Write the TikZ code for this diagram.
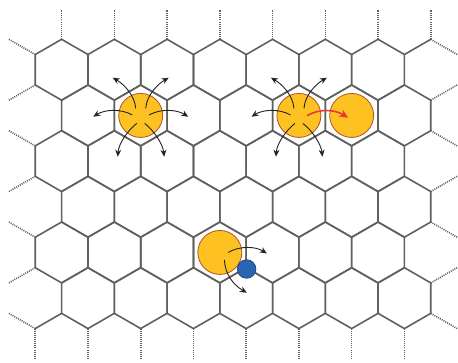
\documentclass[tikz,border=0pt]{standalone}
\usetikzlibrary{arrows.meta,calc}
\definecolor{gridgray}{HTML}{606060}
\definecolor{ballyellow}{HTML}{FDC221}
\definecolor{balledge}{HTML}{B0522A}
\definecolor{ballblue}{HTML}{2865B2}
\definecolor{blueedge}{HTML}{27457F}
\definecolor{arrowred}{HTML}{E8393F}
\definecolor{arrowblack}{HTML}{222222}
\begin{document}
\begin{tikzpicture}[x=1pt,y=-1pt,
  gridline/.style={draw=gridgray,line width=1.6pt,line join=round},
  stub/.style={draw=gridgray,line width=1.6pt,dash pattern=on 1pt off 1.1pt},
  ball/.style={circle,fill=ballyellow,draw=balledge,line width=0.8pt,minimum size=44pt,inner sep=0pt},
  smallball/.style={circle,fill=ballblue,draw=blueedge,line width=0.8pt,minimum size=18.5pt,inner sep=0pt},
  hop/.style={draw=arrowblack,line width=0.9pt,-{Stealth[length=7pt,width=6pt]}},
  swapmove/.style={draw=arrowred,line width=1.6pt,-{Stealth[length=9pt,width=8pt]}},
]
\useasboundingbox (0,0) rectangle (458,362);
\def\W{52.74}\def\H{26.37}\def\R{30.45}\def\Rh{15.225}
\def\xo{61.6}\def\yo{69.75}\def\dy{45.675}
% hexagon grid
\foreach \r in {0,...,5}{
  \foreach \k in {0,...,6}{
    \pgfmathsetmacro{\cx}{\xo+\k*\W+mod(\r,2)*\H}
    \pgfmathsetmacro{\cy}{\yo+\r*\dy}
    \draw[gridline,shift={(\cx,\cy)}] (30:\R) -- (90:\R) -- (150:\R) -- (210:\R) -- (270:\R) -- (330:\R) -- cycle;
  }
}
% corner edges
\draw[gridline] (404.41,54.525) -- (430.78,39.3);
\draw[gridline] (61.6,313.35) -- (35.23,328.575);
% dotted stubs: top and bottom
\foreach \k in {0,...,6}{
  \draw[stub] ({\xo+\k*\W},39.3) -- ++(0,-29.5);
  \draw[stub] ({\xo+\H+\k*\W},328.575) -- ++(0,29.5);
}
\draw[stub] (430.78,39.3) -- ++(0,-29.5);
\draw[stub] (430.78,39.3) -- ++(\H,\Rh);
\draw[stub] (35.23,328.575) -- ++(0,29.5);
\draw[stub] (35.23,328.575) -- ++(-\H,-\Rh);
% left side
\foreach \y in {54.525,145.875,237.225}{ \draw[stub] (35.23,\y) -- ++(-\H,-\Rh); }
\foreach \y in {84.975,176.325,267.675}{ \draw[stub] (35.23,\y) -- ++(-\H,\Rh); }
% right side
\foreach \y in {100.2,191.55,282.9}{ \draw[stub] (430.78,\y) -- ++(\H,-\Rh); }
\foreach \y in {130.65,222.0,313.35}{ \draw[stub] (430.78,\y) -- ++(\H,\Rh); }
% particles
\node[ball] (p1) at (140.71,115.43) {};
\node[ball] (p2) at (298.93,115.43) {};
\node[ball] (p3) at (351.67,115.43) {};
\node[ball] (p4) at (219.82,252.45) {};
\node[smallball] (q) at (246.6,269) {};
% hops
\foreach \p in {p1,p2}{
  \draw[hop] ($(\p)+(-5,-7)$) .. controls ($(\p)+(-6,-21)$) and ($(\p)+(-18,-32)$) .. ($(\p)+(-28,-37.7)$);
  \draw[hop] ($(\p)+(5,-7)$) .. controls ($(\p)+(6,-21)$) and ($(\p)+(18,-32)$) .. ($(\p)+(28,-37.7)$);
  \draw[hop] ($(\p)+(-8.5,-0.5)$) .. controls ($(\p)+(-20,-7)$) and ($(\p)+(-36,-6)$) .. ($(\p)+(-47.4,1.3)$);
  \draw[hop] ($(\p)+(-4,8)$) .. controls ($(\p)+(-13,15)$) and ($(\p)+(-22,28)$) .. ($(\p)+(-23,41.3)$);
  \draw[hop] ($(\p)+(4,8)$) .. controls ($(\p)+(13,15)$) and ($(\p)+(22,28)$) .. ($(\p)+(23.5,41.3)$);
}
\draw[hop] ($(p1)+(8.5,-0.5)$) .. controls ($(p1)+(20,-7)$) and ($(p1)+(36,-6)$) .. ($(p1)+(47.5,1.3)$);
\draw[swapmove] ($(p2)+(8,0.3)$) .. controls ($(p2)+(20,-7)$) and ($(p2)+(36,-6)$) .. ($(p3)+(-3.5,2.3)$);
\draw[hop] ($(p4)+(8.5,0)$) .. controls ($(p4)+(20,-7)$) and ($(p4)+(36,-6)$) .. ($(p4)+(47,1)$);
\draw[hop] ($(p4)+(4.5,7.5)$) .. controls ($(p4)+(5.5,22)$) and ($(p4)+(13,32)$) .. ($(p4)+(27,40.3)$);
\end{tikzpicture}
\end{document}
